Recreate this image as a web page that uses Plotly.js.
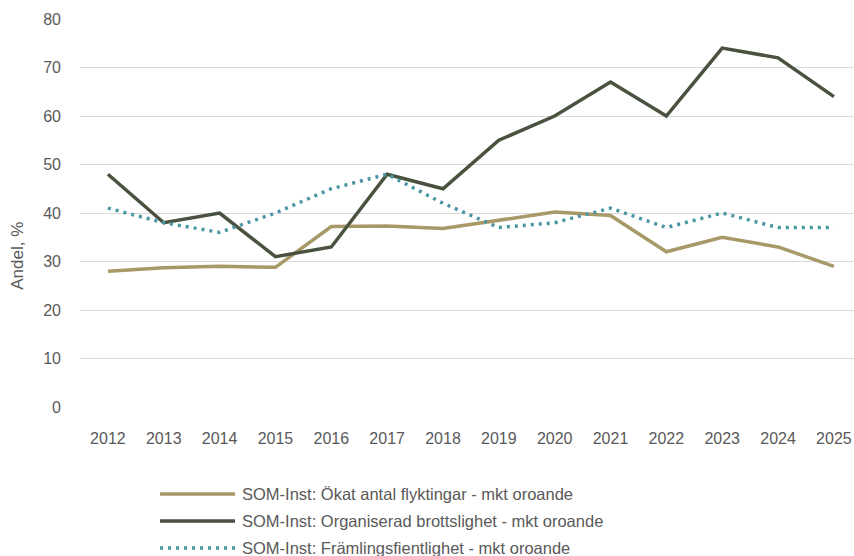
<!DOCTYPE html>
<html>
<head>
<meta charset="utf-8">
<script src="https://cdn.plot.ly/plotly-3.0.1.min.js"></script>
<style>
  html, body { margin: 0; padding: 0; background: #fff; }
  #chart { width: 854px; height: 556px; }
</style>
</head>
<body>
<div id="chart"></div>
<script>
// Oro i samhället, andel "mycket oroande" per år (SOM-institutet)
const years = [2012, 2013, 2014, 2015, 2016, 2017, 2018, 2019, 2020, 2021, 2022, 2023, 2024, 2025];

const flyktingar = [28, 28.7, 29, 28.8, 37.2, 37.3, 36.8, 38.5, 40.2, 39.5, 32, 35, 33, 29];
const brottslighet = [48, 38, 40, 31, 33, 48, 45, 55, 60, 67, 60, 74, 72, 64];
const framlingsfientlighet = [41, 38, 36, 40, 45, 48, 42, 37, 38, 41, 37, 40, 37, 37];

const seriesNames = [
    'SOM-Inst: Ökat antal flyktingar - mkt oroande',
    'SOM-Inst: Organiserad brottslighet - mkt oroande',
    'SOM-Inst: Främlingsfientlighet - mkt oroande'
];
const seriesColors = ['#A89968', '#48523E', '#4A95A4'];
const seriesDash = ['solid', 'solid', '3px,5px'];

const yTicks = [0, 10, 20, 30, 40, 50, 60, 70, 80];
const yTitle = 'Andel, %';

const textColor = '#595959';
const fontFamily = '"Liberation Sans", Arial, sans-serif';

const seriesData = [flyktingar, brottslighet, framlingsfientlighet];
const traces = seriesData.map((vals, i) => ({
    x: years, y: vals, name: seriesNames[i],
    type: 'scatter', mode: 'lines',
    line: {color: seriesColors[i], width: 3.5, dash: seriesDash[i]}
}));

// egen legend under diagrammet (längre linjer och större radavstånd än Plotlys)
const legendRowsY = [-0.224, -0.294, -0.3635];
const shapes = seriesNames.map((n, i) => ({
    type: 'line', xref: 'paper', yref: 'paper',
    x0: 0.1034, x1: 0.2003, y0: legendRowsY[i], y1: legendRowsY[i],
    line: {color: seriesColors[i], width: 3.5, dash: seriesDash[i]}
}));
const annotations = seriesNames.map((n, i) => ({
    text: n, xref: 'paper', yref: 'paper',
    x: 0.2067, y: legendRowsY[i], xanchor: 'left', yanchor: 'middle',
    showarrow: false, font: {size: 16.5, color: textColor}
}));
// y-axelns titel ligger något under mitten i originalet
annotations.push({
    text: yTitle, xref: 'paper', yref: 'paper',
    x: -0.08, y: 0.39, xanchor: 'center', yanchor: 'middle',
    textangle: -90, showarrow: false, font: {size: 17, color: textColor}
});

const layout = {
    width: 854,
    height: 556,
    margin: {l: 80, r: 0, t: 19, b: 149},
    paper_bgcolor: '#fff',
    plot_bgcolor: '#fff',
    font: {family: fontFamily, size: 16, color: textColor},
    showlegend: false,
    shapes: shapes,
    annotations: annotations,
    xaxis: {
        range: [2011.5, 2025.36],
        tickmode: 'array',
        tickvals: years,
        ticktext: years.map(String),
        showgrid: false,
        zeroline: false,
        showline: false,
        ticks: '',
        ticklabelstandoff: 20,
        tickfont: {size: 16, color: textColor},
        fixedrange: true
    },
    yaxis: {
        range: [0, 80],
        tickmode: 'array',
        tickvals: yTicks,
        showgrid: true,
        gridcolor: '#D9D9D9',
        gridwidth: 1,
        zeroline: false,
        showline: false,
        ticks: '',
        ticklabelstandoff: 18,
        tickfont: {size: 16, color: textColor},
        fixedrange: true
    }
};

Plotly.newPlot('chart', traces, layout, {displayModeBar: false, staticPlot: true});
</script>
</body>
</html>
